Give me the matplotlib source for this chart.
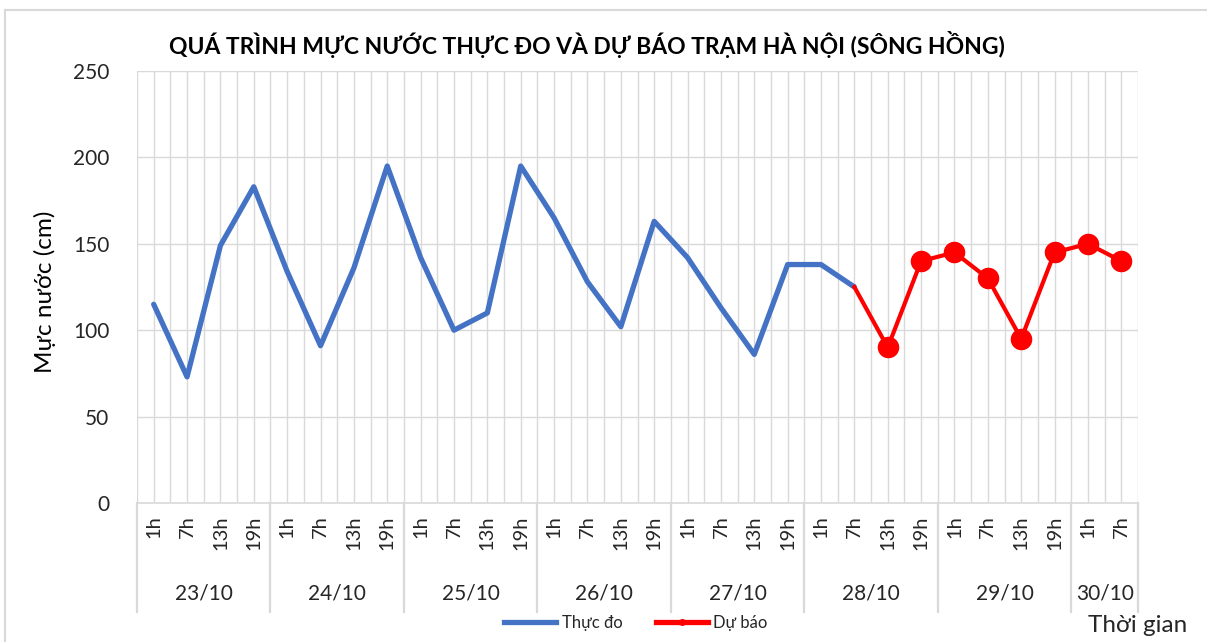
import matplotlib.pyplot as plt
from matplotlib.lines import Line2D

plt.rcParams['font.family'] = ['Lato', 'DejaVu Sans']

# ---------- dữ liệu ----------
dates = ['23/10', '24/10', '25/10', '26/10', '27/10', '28/10', '29/10', '30/10']
hours_per_date = [4, 4, 4, 4, 4, 4, 4, 2]
hour_labels = ['1h', '7h', '13h', '19h']

observed = [115, 73, 149, 183, 134, 91, 136, 195, 142, 100, 110, 195,
            165, 128, 102, 163, 142, 113, 86, 138, 138, 125]
# bắt đầu từ điểm thực đo cuối cùng (7h 28/10)
forecast = [125, 90, 140, 145, 130, 95, 145, 150, 140]

BLUE = '#4472C4'
RED = '#FF0000'
GRID = '#D9D9D9'
TXT = '#262626'

ticks = []
for n in hours_per_date:
    ticks += hour_labels[:n]
n_cat = len(ticks)
xpos = [i + 0.5 for i in range(n_cat)]

fig = plt.figure(figsize=(12.07, 6.42), dpi=100)
ax = fig.add_axes([137 / 1207, 1 - 503 / 642, (1138 - 137) / 1207, (503 - 71) / 642])

# lưới
for k in range(2 * n_cat + 1):
    ax.axvline(k / 2, color=GRID, lw=1, zorder=0)
for v in range(0, 251, 50):
    ax.axhline(v, color=GRID, lw=1, zorder=0)

ax.plot(xpos[:len(observed)], observed, color=BLUE, lw=3.8,
        solid_capstyle='round', solid_joinstyle='round', zorder=3)
f0 = len(observed) - 1
fx = xpos[f0:f0 + len(forecast)]
ax.plot(fx, forecast, color=RED, lw=3.0, solid_joinstyle='round', zorder=4)
ax.plot(fx[1:], forecast[1:], 'o', color=RED, ms=14.5, zorder=5)

ax.set_xlim(0, n_cat)
ax.set_ylim(0, 250)
ax.set_yticks(range(0, 251, 50))
ax.set_xticks([])
for s in ax.spines.values():
    s.set_visible(False)
ax.tick_params(axis='y', length=0, labelsize=15, labelcolor=TXT, pad=20)

# nhãn giờ
for x, t in zip(xpos, ticks):
    ax.text(x, -7, t, rotation=90, ha='center', va='top', fontsize=14.5,
            color=TXT, transform=ax.transData, clip_on=False)

# nhãn ngày và đường phân cách
tr = ax.get_xaxis_transform()
ax.plot([0, n_cat], [0, 0], color=GRID, lw=1.2, transform=tr, clip_on=False)
start = 0
sep_bottom = -(612 - 503) / 432
ax.plot([0, 0], [0, sep_bottom], color=GRID, lw=1.6, transform=tr, clip_on=False)
for d, n in zip(dates, hours_per_date):
    end = start + n
    ax.plot([end, end], [0, sep_bottom], color=GRID, lw=1.6, transform=tr, clip_on=False)
    ax.text((start + end) / 2, -(594 - 503) / 432, d, ha='center', va='center',
            fontsize=15, color=TXT, transform=tr)
    start = end

fig.text(0.486, 1 - 45 / 642, 'QUÁ TRÌNH MỰC NƯỚC THỰC ĐO VÀ DỰ BÁO TRẠM HÀ NỘI (SÔNG HỒNG)',
         ha='center', va='center', fontsize=16.5, fontweight='bold', color='black')
fig.text(45 / 1207, 1 - 292 / 642, 'Mực nước (cm)', rotation=90, ha='center', va='center',
         fontsize=17.5, color='black')
fig.text(1138 / 1207, 1 - 626 / 642, 'Thời gian', ha='center', va='center',
         fontsize=17.5, color=TXT)

handles = [Line2D([], [], color=BLUE, lw=3.8),
           Line2D([], [], color=RED, lw=3.8, marker='o', ms=4)]
fig.legend(handles, ['Thực đo', 'Dự báo'], loc='center', bbox_to_anchor=(0.527, 1 - 623 / 642),
           ncol=2, frameon=False, fontsize=12, handlelength=3.1, columnspacing=2.0,
           handletextpad=0.35, labelcolor=TXT)

# khung biểu đồ
fig.add_artist(Line2D([5 / 1207, 5 / 1207], [0, 1 - 10 / 642], color=GRID, lw=1.5,
                      transform=fig.transFigure))
fig.add_artist(Line2D([5 / 1207, 1], [1 - 10 / 642, 1 - 10 / 642], color=GRID, lw=1.5,
                      transform=fig.transFigure))

fig.savefig('out.png', dpi=100, facecolor='white')
